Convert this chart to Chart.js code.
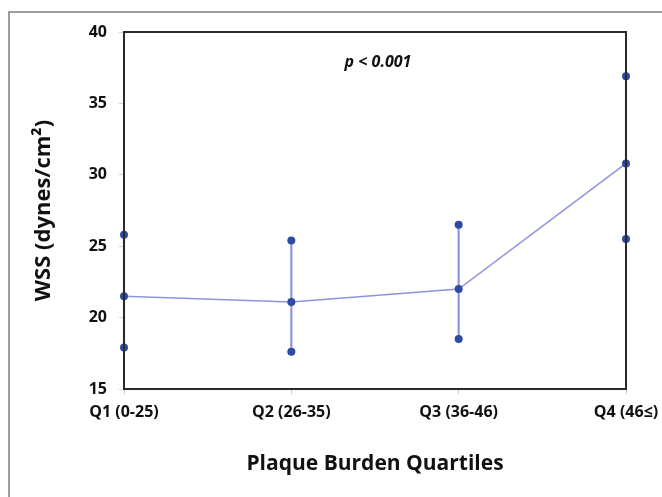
<!DOCTYPE html>
<html>
<head>
<meta charset="utf-8">
<script src="https://cdn.jsdelivr.net/npm/chart.js@4"></script>
<style>
  html, body { margin: 0; padding: 0; background: #fff; overflow: hidden; }
  #wrap { position: relative; width: 662px; height: 497px; }
  #frame { position: absolute; left: 8px; top: 11px; width: 700px; height: 540px;
           border: 2px solid #9c9c9c; box-sizing: border-box; }
  canvas { position: absolute; left: 0; top: 0; }
</style>
</head>
<body>
<div id="wrap">
  <div id="frame"></div>
  <canvas id="chart" width="662" height="497"></canvas>
</div>
<script>
// WSS by plaque burden quartile: mean with upper / lower values
const quartiles = ["Q1 (0-25)", "Q2 (26-35)", "Q3 (36-46)", "Q4 (46\u2264)"];
const wssMean = [21.5, 21.1, 22.0, 30.8];
const wssUpper = [25.8, 25.4, 26.5, 36.9];
const wssLower = [17.9, 17.6, 18.5, 25.5];
const yTicks = [15, 20, 25, 30, 35, 40];

const lineColor = "#8f92de";
const dotColor = "#2d4ba3";
const font = "'Open Sans', Lato, sans-serif";

// Box around the plot area plus the p-value note.
const plotFrame = {
    id: "plotFrame",
    afterDraw(chart) {
        const { ctx, chartArea: a } = chart;
        ctx.save();
        ctx.strokeStyle = "#2a2a2a";
        ctx.lineWidth = 2;
        ctx.strokeRect(a.left, a.top, a.right - a.left, a.bottom - a.top);
        ctx.fillStyle = "#111";
        ctx.font = "italic bold 16px " + font;
        ctx.textAlign = "center";
        ctx.textBaseline = "middle";
        ctx.fillText("p < 0.001", (a.left + a.right) / 2 + 3, chart.scales.y.getPixelForValue(37.9));
        ctx.restore();
    },
};

new Chart(document.getElementById("chart"), {
    data: {
        labels: quartiles,
        datasets: [
            {
                type: "bar",
                data: wssLower.map((lo, i) => [lo, wssUpper[i]]),
                backgroundColor: lineColor,
                barThickness: 1.5,
                clip: false,
                order: 3,
            },
            {
                type: "line",
                data: wssMean,
                borderColor: lineColor,
                borderWidth: 1.5,
                pointRadius: 0,
                clip: false,
                order: 2,
            },
            ...[wssUpper, wssMean, wssLower].map((vals) => ({
                type: "line",
                data: vals,
                showLine: false,
                pointRadius: 4,
                pointBackgroundColor: dotColor,
                pointBorderColor: dotColor,
                pointBorderWidth: 0,
                clip: false,
                order: 1,
            })),
        ],
    },
    options: {
        responsive: false,
        animation: false,
        layout: { padding: { left: 0, top: 32, right: 36, bottom: 0 } },
        plugins: { legend: { display: false }, tooltip: { enabled: false } },
        scales: {
            x: {
                type: "category",
                offset: false,
                afterFit: (s) => {
                    s.height = 108;
                    s.paddingRight = 0;
                },
                grid: { offset: false, drawOnChartArea: false, drawTicks: true, tickLength: 5, color: "#c8c8c8" },
                border: { display: false },
                ticks: { color: "#111", padding: 9, font: { family: font, size: 16, weight: "bold" }, maxRotation: 0, autoSkip: false },
                title: {
                    display: true,
                    text: "Plaque Burden Quartiles",
                    color: "#111",
                    font: { family: font, size: 21, weight: "bold" },
                    padding: { top: 0, bottom: 20 },
                },
            },
            y: {
                min: 15,
                max: 40,
                afterFit: (s) => { s.width = 124; },
                afterBuildTicks: (s) => { s.ticks = yTicks.map((v) => ({ value: v })); },
                grid: { drawOnChartArea: false, drawTicks: true, tickLength: 5, color: "#d6d6d6" },
                border: { display: false },
                ticks: { color: "#111", padding: 12, font: { family: font, size: 16, weight: "bold" } },
                title: {
                    display: true,
                    text: "WSS (dynes/cm\u00b2)",
                    color: "#111",
                    font: { family: font, size: 22, weight: "bold" },
                    padding: { top: 31, bottom: 0 },
                },
            },
        },
    },
    plugins: [plotFrame],
});
</script>
</body>
</html>
